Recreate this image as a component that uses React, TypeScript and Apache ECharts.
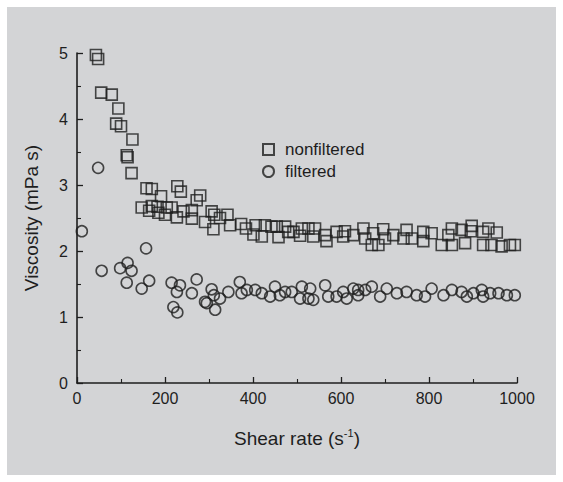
import React, { useEffect, useRef } from "react";
import * as echarts from "echarts";

const xTicks = [0, 200, 400, 600, 800, 1000];
const yTicks = [0, 1, 2, 3, 4, 5];
const seriesNames = ["nonfiltered", "filtered"];

const nonfiltered: [number, number][] = [
  [43, 4.97], [48, 4.91], [55, 4.4], [79, 4.37], [89, 3.93], [94, 4.16], [100, 3.89],
  [113, 3.45], [115, 3.42], [124, 3.18], [126, 3.69], [147, 2.66], [158, 2.95], [164, 2.61],
  [170, 2.94], [170, 2.68], [183, 2.67], [185, 2.58], [191, 2.83], [200, 2.55], [204, 2.66],
  [215, 2.66], [227, 2.51], [228, 2.98], [236, 2.9], [242, 2.6], [261, 2.62], [261, 2.49],
  [272, 2.77], [280, 2.84], [291, 2.44], [306, 2.6], [310, 2.33], [312, 2.55], [325, 2.5],
  [342, 2.55], [348, 2.39], [373, 2.41], [384, 2.34], [401, 2.25], [406, 2.39], [420, 2.22],
  [427, 2.39], [442, 2.37], [454, 2.37], [458, 2.21], [473, 2.37], [480, 2.29], [492, 2.29],
  [507, 2.23], [511, 2.34], [526, 2.34], [537, 2.22], [541, 2.34], [564, 2.24], [567, 2.15],
  [590, 2.29], [605, 2.22], [609, 2.3], [628, 2.24], [651, 2.34], [655, 2.19], [670, 2.09],
  [673, 2.27], [685, 2.09], [696, 2.33], [700, 2.19], [719, 2.24], [742, 2.19], [749, 2.32],
  [761, 2.19], [787, 2.29], [787, 2.15], [806, 2.27], [829, 2.09], [844, 2.24], [852, 2.34],
  [852, 2.09], [874, 2.32], [882, 2.12], [895, 2.3], [897, 2.38], [923, 2.29], [923, 2.09],
  [935, 2.34], [942, 2.09], [954, 2.28], [965, 2.07], [984, 2.09], [995, 2.09],
];

const filtered: [number, number][] = [
  [11, 2.3], [48, 3.26], [56, 1.7], [98, 1.74], [113, 1.52], [115, 1.82], [124, 1.7],
  [147, 1.43], [157, 2.04], [164, 1.55], [215, 1.52], [219, 1.15], [227, 1.38], [228, 1.07],
  [234, 1.48], [261, 1.36], [272, 1.57], [291, 1.23], [295, 1.21], [306, 1.42], [311, 1.33],
  [314, 1.11], [325, 1.28], [344, 1.38], [370, 1.53], [374, 1.36], [386, 1.41], [405, 1.41],
  [420, 1.36], [439, 1.31], [450, 1.46], [461, 1.33], [473, 1.38], [488, 1.38], [507, 1.28],
  [511, 1.46], [526, 1.28], [530, 1.43], [537, 1.26], [564, 1.48], [571, 1.31], [590, 1.31],
  [605, 1.38], [613, 1.28], [628, 1.43], [639, 1.41], [639, 1.33], [655, 1.41], [670, 1.46],
  [689, 1.31], [704, 1.43], [727, 1.36], [749, 1.38], [772, 1.33], [791, 1.31], [806, 1.43],
  [833, 1.33], [852, 1.41], [874, 1.38], [886, 1.31], [901, 1.36], [920, 1.41], [923, 1.31],
  [939, 1.36], [958, 1.36], [977, 1.33], [995, 1.33],
];

const FONT = "'Liberation Sans', Arial, sans-serif";
const INK = "#1e1e1e";

export default function App() {
  const ref = useRef<HTMLDivElement>(null);
  useEffect(() => {
    if (!ref.current) return;
    const chart = echarts.init(ref.current, undefined, { renderer: "svg" });
    const markerStyle = { color: "rgba(0,0,0,0)", borderColor: INK, borderWidth: 1.6 };
    chart.setOption({
      animation: false,
      backgroundColor: "#ffffff",
      graphic: [
        {
          type: "rect",
          z: -10,
          silent: true,
          shape: { x: 7, y: 7, width: 549, height: 468 },
          style: { fill: "#d3d4d6" },
        },
      ],
      grid: { left: 77, right: 46, top: 53, bottom: 99, containLabel: false },
      legend: {
        orient: "vertical",
        left: 257,
        top: 136,
        itemWidth: 11,
        itemHeight: 11,
        itemGap: 5,
        data: seriesNames,
        textStyle: { fontFamily: FONT, fontSize: 17, color: INK, padding: [0, 0, 0, 6] },
      },
      xAxis: {
        type: "value",
        min: 0,
        max: 1000,
        interval: 200,
        name: "Shear rate (s{sup|-1})",
        nameLocation: "middle",
        nameGap: 44,
        nameTextStyle: {
          fontFamily: FONT,
          fontSize: 19,
          color: INK,
          rich: { sup: { fontFamily: FONT, fontSize: 11, color: INK, verticalAlign: "top", lineHeight: 22 } },
        },
        axisLine: { show: true, lineStyle: { color: INK, width: 1.6 } },
        axisTick: { show: true, inside: true, length: 6, lineStyle: { color: INK, width: 1.3 } },
        minorTick: { show: true, splitNumber: 2, length: 4, lineStyle: { color: INK, width: 1.1 } },
        axisLabel: {
          fontFamily: FONT,
          fontSize: 16,
          color: INK,
          margin: 7,
          formatter: (v: number) => (xTicks.includes(v) ? String(v) : ""),
        },
        splitLine: { show: false },
      },
      yAxis: {
        type: "value",
        min: 0,
        max: 5,
        interval: 1,
        name: "Viscosity (mPa s)",
        nameLocation: "middle",
        nameGap: 36,
        nameTextStyle: { fontFamily: FONT, fontSize: 19, color: INK },
        axisLine: { show: true, lineStyle: { color: INK, width: 1.6 } },
        axisTick: { show: true, inside: true, length: 6, lineStyle: { color: INK, width: 1.3 } },
        minorTick: { show: true, splitNumber: 2, length: 4, lineStyle: { color: INK, width: 1.1 } },
        axisLabel: {
          fontFamily: FONT,
          fontSize: 16,
          color: INK,
          margin: 9,
          formatter: (v: number) => (yTicks.includes(v) ? String(v) : ""),
        },
        splitLine: { show: false },
      },
      series: [
        {
          name: seriesNames[0],
          type: "scatter",
          symbol: "rect",
          symbolSize: 11,
          data: nonfiltered,
          itemStyle: markerStyle,
          clip: true,
        },
        {
          name: seriesNames[1],
          type: "scatter",
          symbol: "circle",
          symbolSize: 11,
          data: filtered,
          itemStyle: markerStyle,
          clip: true,
        },
      ],
    });
    return () => chart.dispose();
  }, []);
  return (
    <div
      ref={ref}
      style={{ position: "fixed", left: 0, top: 0, width: 563, height: 482 }}
    />
  );
}
